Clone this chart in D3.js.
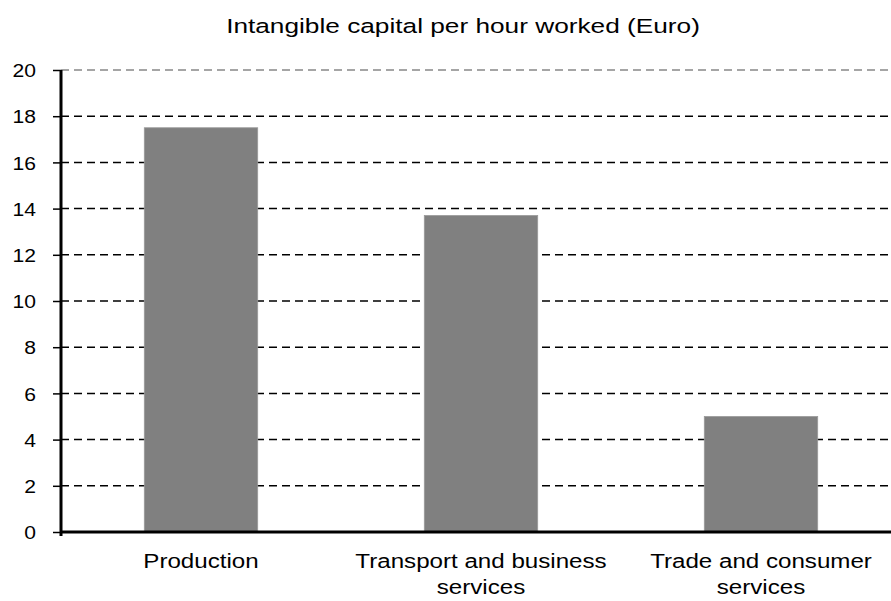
<!DOCTYPE html>
<html>
<head>
<meta charset="utf-8">
<script src="https://d3js.org/d3.v7.min.js"></script>
<style>
  body { margin: 0; background: #fff; }
  text { font-family: "Liberation Sans", Arial, sans-serif; fill: #000; }
</style>
</head>
<body>
<div id="chart"></div>
<script>
var categories = [["Production"], ["Transport and business", "services"], ["Trade and consumer", "services"]];
var values = [17.5, 13.7, 5.0];
var yTicks = [0, 2, 4, 6, 8, 10, 12, 14, 16, 18, 20];
var title = "Intangible capital per hour worked (Euro)";

var width = 891, height = 601;

var svg = d3.select("#chart").append("svg")
    .attr("width", width)
    .attr("height", height);

var x = d3.scaleBand()
    .domain(d3.range(categories.length))
    .range([61, 901])
    .padding(0);

var barW = x.bandwidth() * 0.405;

var y = d3.scaleLinear()
    .domain([0, 20])
    .range([532, 70]);

// title (reference text is a bit stretched horizontally)
svg.append("text")
    .attr("transform", "translate(463,33) scale(1.28,1)")
    .attr("text-anchor", "middle")
    .attr("font-size", 20.5)
    .text(title);

// gridlines
svg.append("g")
  .selectAll("line")
  .data(yTicks.filter(d => d > 0))
  .join("line")
    .attr("x1", 61)
    .attr("x2", width)
    .attr("y1", d => y(d))
    .attr("y2", d => y(d))
    .attr("stroke", d => d == 20 ? "#888" : "#000")
    .attr("stroke-width", 1.5)
    .attr("stroke-dasharray", "8,5");

// bars
svg.append("g")
  .selectAll("rect")
  .data(values)
  .join("rect")
    .attr("x", (d, i) => x(i) + x.bandwidth() / 2 - barW / 2)
    .attr("y", d => y(d))
    .attr("width", barW)
    .attr("height", d => y(0) - y(d))
    .attr("fill", "#808080")
    .attr("stroke", "#9a9a9a")
    .attr("stroke-width", 0.8);

// y axis
var yAxis = svg.append("g")
    .attr("transform", "translate(61,0)")
    .call(d3.axisLeft(y).tickValues(yTicks).tickSize(8));
yAxis.select(".domain").attr("stroke-width", 3).attr("d", "M0,70V536");
yAxis.selectAll(".tick line").attr("stroke-width", 1.5);
yAxis.selectAll(".tick text")
    .attr("x", 0)
    .attr("dy", "0.35em")
    .attr("transform", "translate(-25,0) scale(1.11,1)")
    .attr("font-size", 19)
    .attr("font-family", "Liberation Sans, Arial, sans-serif")
    .attr("fill", "#000");

// x axis line
svg.append("line")
    .attr("x1", 60)
    .attr("x2", width)
    .attr("y1", y(0))
    .attr("y2", y(0))
    .attr("stroke", "#000")
    .attr("stroke-width", 3);

// category labels
var lbl = svg.append("g")
  .selectAll("text")
  .data(categories)
  .join("text")
    .attr("text-anchor", "middle")
    .attr("font-size", 21)
    .attr("transform", (d, i) => "translate(" + (x(i) + x.bandwidth() / 2) + ",568) scale(1.15,1)");
lbl.selectAll("tspan")
  .data(d => d)
  .join("tspan")
    .attr("x", 0)
    .attr("dy", (d, i) => i == 0 ? 0 : 26)
    .text(d => d);
</script>
</body>
</html>
